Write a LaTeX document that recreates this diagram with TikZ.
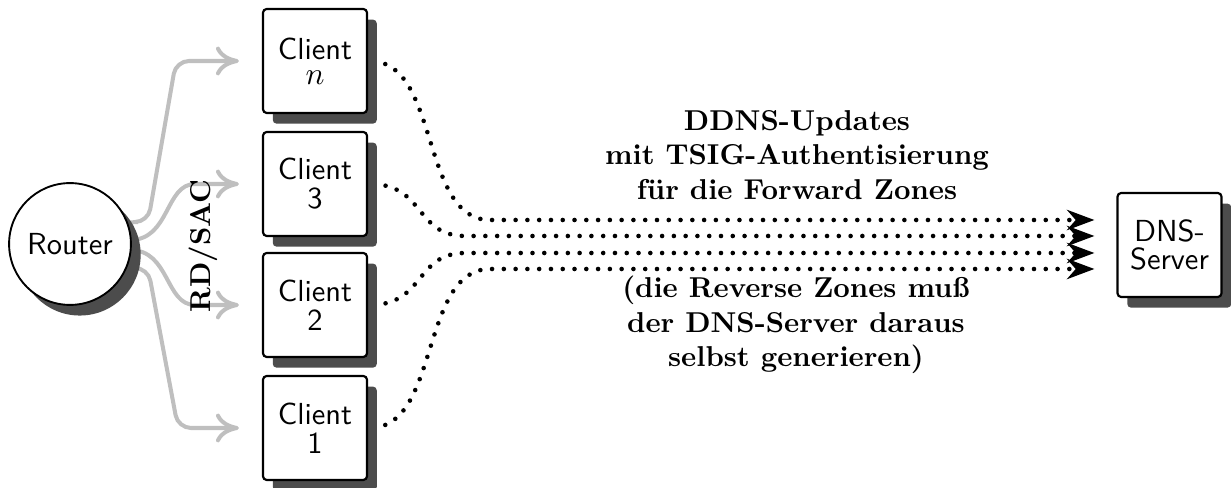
\documentclass[tikz,border=0pt]{standalone}
\usetikzlibrary{shadows,arrows.meta,calc}
\pgfdeclarelayer{bg}
\pgfsetlayers{bg,main}
\begin{document}
\begin{tikzpicture}[x=0.348pt,y=-0.348pt,
  shade/.style={drop shadow={shadow xshift=3.4pt,shadow yshift=-3.7pt,fill=black!70,opacity=1}},
  box/.style={draw,line width=0.75pt,fill=white,rounded corners=1.3pt,
    minimum width=36.2pt,minimum height=36.2pt,inner sep=0pt,
    align=center,font=\sffamily\fontsize{10.6}{12.7}\selectfont,shade},
  hub/.style={draw,circle,line width=0.65pt,fill=white,minimum size=42.4pt,
    inner sep=0pt,font=\sffamily\fontsize{10.6}{12.7}\selectfont,shade},
  lbl/.style={font=\bfseries,align=center,inner sep=0pt},
  ra/.style={draw=black!25,line width=1.4pt,shorten >=8pt,
    -{To[length=8pt,width=10pt]}},
  upd/.style={line width=1.6pt,line cap=round,dash pattern=on 0pt off 4.1pt,
    -{Stealth[length=9.5pt,width=7pt,inset=3pt]}}]
\useasboundingbox (0,0) rectangle (1231,488);

% nodes
\node[hub] (router) at (70,244) {Router};
\node[box] (cn) at (315,61)  {Client\\[-4pt]$n$};
\node[box] (c3) at (315,184) {Client\\[-2.6pt]3};
\node[box] (c2) at (315,305) {Client\\[-2.6pt]2};
\node[box] (c1) at (315,428) {Client\\[-2.6pt]1};
\node[box] (dns) at (1169.5,245) {DNS-\\[-3pt]Server};

% labels
\node[lbl,rotate=90] (rdsac) at (203,246) {RD/SAC};
\node[lbl] (fwd) at (797,155) {DDNS-Updates\\mit TSIG-Authentisierung\\für die Forward Zones};
\node[lbl] (rev) at (796,325) {(die Reverse Zones muß\\der DNS-Server daraus\\selbst generieren)};

\begin{pgfonlayer}{bg}
  % router advertisements to the clients
  \draw[ra,rounded corners=4.5pt] (router.center) -- (125,222) -- (148,222) -- (176,61) -- (cn.west);
  \draw[ra] (router.center) -- (130,240) .. controls (170,240) and (165,184) .. (195,184) -- (c3.west);
  \draw[ra] (router.center) -- (130,250) .. controls (170,250) and (165,305) .. (195,305) -- (c2.west);
  \draw[ra,rounded corners=4.5pt] (router.center) -- (125,268) -- (148,268) -- (178,428) -- (c1.west);

  % dynamic DNS updates to the server
  \draw[upd] (cn.center) -- (370,61) .. controls (440,61) and (420,220) .. (490,220)
    -- ($(dns.west)+(-22,-25)$);
  \draw[upd] (c3.center) -- (370,184) .. controls (425,184) and (415,236) .. (465,236)
    -- ($(dns.west)+(-22,-9)$);
  \draw[upd] (c2.center) -- (370,305) .. controls (425,305) and (415,253) .. (465,253)
    -- ($(dns.west)+(-22,8)$);
  \draw[upd] (c1.center) -- (370,428) .. controls (440,428) and (420,269) .. (490,269)
    -- ($(dns.west)+(-22,24)$);
\end{pgfonlayer}
\end{tikzpicture}
\end{document}
